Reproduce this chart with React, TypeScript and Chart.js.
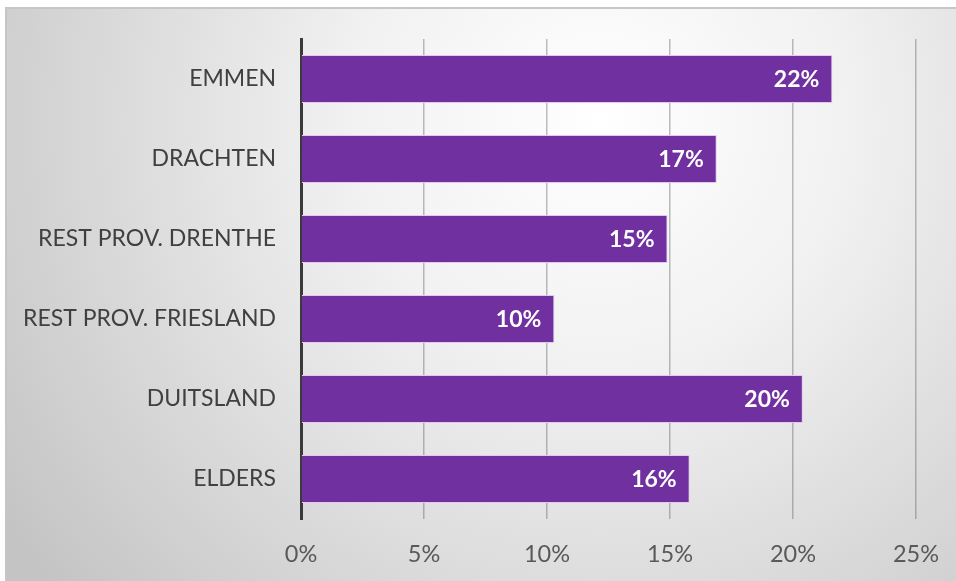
import React, { useEffect, useRef } from "react";
import { Chart, registerables } from "chart.js";

Chart.register(...registerables);

const categories = ["EMMEN", "DRACHTEN", "REST PROV. DRENTHE", "REST PROV. FRIESLAND", "DUITSLAND", "ELDERS"];
const values = [21.6, 16.9, 14.9, 10.3, 20.4, 15.8];
const xTicks = [0, 5, 10, 15, 20, 25];

const FONT = "Lato, 'Open Sans', sans-serif";

const bgPlugin = {
  id: "bg",
  beforeDraw(chart: any) {
    const { ctx, width, height } = chart;
    ctx.save();
    const g = ctx.createRadialGradient(600, 120, 0, 600, 120, 720);
    g.addColorStop(0, "#ffffff");
    g.addColorStop(0.35, "#f1f1f1");
    g.addColorStop(1, "#c4c4c4");
    ctx.fillStyle = g;
    ctx.fillRect(6, 8, width - 6, height - 8);
    ctx.strokeStyle = "#c6c6c6";
    ctx.lineWidth = 2;
    ctx.beginPath();
    ctx.moveTo(6, height);
    ctx.lineTo(6, 8);
    ctx.lineTo(width, 8);
    ctx.stroke();
    ctx.restore();
  },
};

const labelPlugin = {
  id: "barLabels",
  afterDatasetsDraw(chart: any) {
    const { ctx } = chart;
    const meta = chart.getDatasetMeta(0);
    ctx.save();
    ctx.fillStyle = "#ffffff";
    ctx.font = `bold 23px ${FONT}`;
    ctx.textAlign = "right";
    ctx.textBaseline = "middle";
    meta.data.forEach((el: any, i: number) => {
      ctx.fillText(Math.round(values[i]) + "%", el.x - 13, el.y + 1);
    });
    ctx.restore();
  },
};

export default function App() {
  const ref = useRef<HTMLCanvasElement>(null);
  useEffect(() => {
    const chart = new Chart(ref.current!, {
      type: "bar",
      data: {
        labels: categories,
        datasets: [
          {
            data: values,
            backgroundColor: "#7030A0",
            borderColor: "#e4c8f4",
            borderWidth: 1,
            barPercentage: 0.6,
            categoryPercentage: 1,
          },
        ],
      },
      options: {
        indexAxis: "y",
        animation: false,
        responsive: false,
        maintainAspectRatio: false,
        layout: { padding: { left: 6, right: 40, top: 39, bottom: 0 } },
        plugins: { legend: { display: false }, tooltip: { enabled: false } },
        scales: {
          x: {
            min: 0,
            max: 25,
            afterBuildTicks: (s: any) => {
              s.ticks = xTicks.map((v) => ({ value: v }));
            },
            afterFit: (s: any) => {
              s.height = 62;
              s.paddingLeft = 0;
              s.paddingRight = 0;
            },
            grid: { color: "rgba(90,90,90,0.4)", lineWidth: 1.5, drawTicks: false },
            border: { display: false },
            ticks: {
              padding: 21,
              color: "#595959",
              font: { family: FONT, size: 23.5 },
              callback: (v: any) => v + "%",
            },
          },
          y: {
            afterFit: (s: any) => {
              s.width = 295;
              s.paddingTop = 0;
              s.paddingBottom = 0;
            },
            grid: { display: false, drawTicks: false },
            border: { display: true, color: "#3a3a3a", width: 3 },
            ticks: {
              padding: 25,
              color: "#404040",
              font: { family: FONT, size: 23 },
            },
          },
        },
      },
      plugins: [bgPlugin, labelPlugin],
    });
    return () => chart.destroy();
  }, []);
  return (
    <div style={{ position: "fixed", left: 0, top: 0, width: 956, height: 581, background: "#fff" }}>
      <canvas ref={ref} width={956} height={581} style={{ width: 956, height: 581, display: "block" }} />
    </div>
  );
}
